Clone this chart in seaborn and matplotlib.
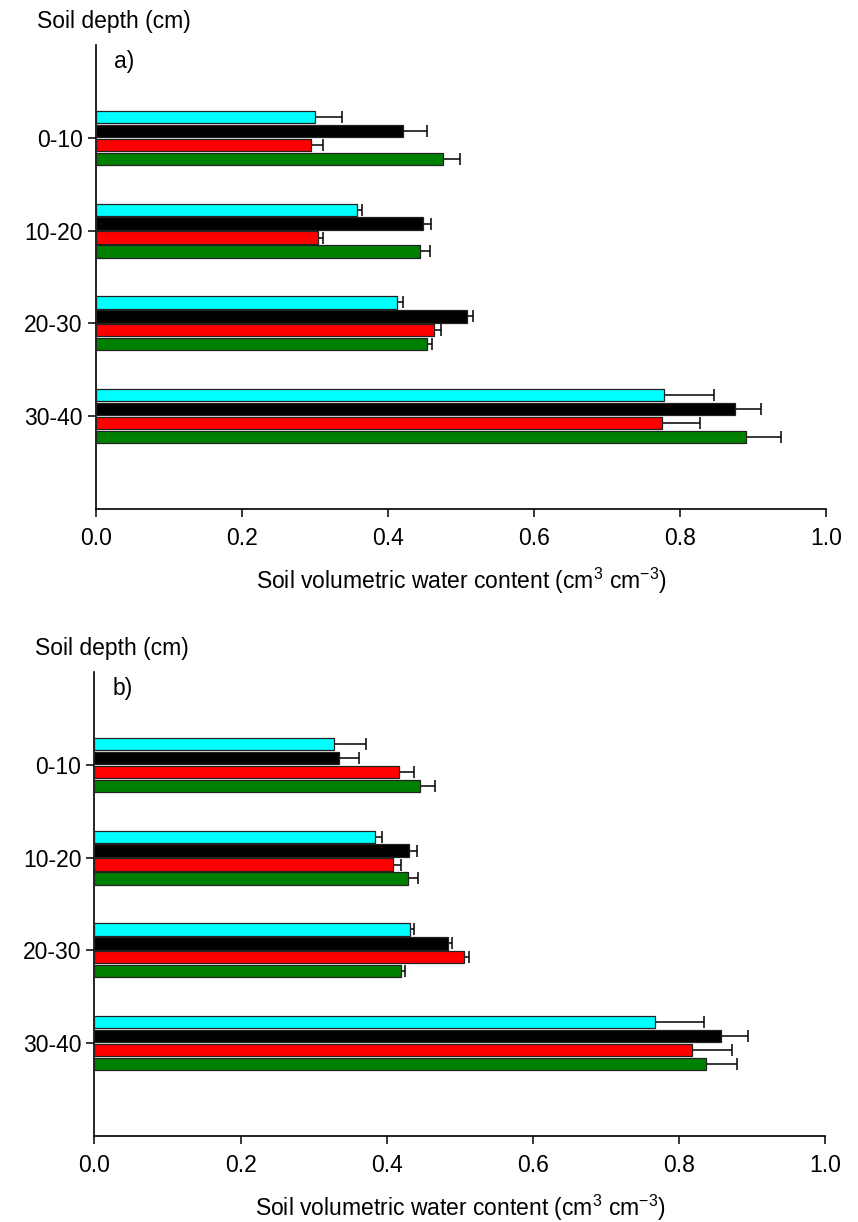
import numpy as np
import pandas as pd
import seaborn as sns
import matplotlib.pyplot as plt

depths = ['0-10', '10-20', '20-30', '30-40']
treatments = ['T1', 'T2', 'T3', 'T4']
mypal = {'T1': '#00FFFF', 'T2': '#000000', 'T3': '#FF0000', 'T4': '#008000'}

# panel a) means per treatment, depths 0-10 .. 30-40
a_t1 = [0.300, 0.357, 0.413, 0.778]
a_t2 = [0.420, 0.448, 0.508, 0.875]
a_t3 = [0.295, 0.304, 0.463, 0.776]
a_t4 = [0.476, 0.444, 0.454, 0.891]
# panel a) error (one sided)
a_t1_se = [0.037, 0.007, 0.007, 0.069]
a_t2_se = [0.034, 0.011, 0.009, 0.036]
a_t3_se = [0.016, 0.007, 0.009, 0.052]
a_t4_se = [0.023, 0.014, 0.006, 0.048]

# panel b)
b_t1 = [0.327, 0.384, 0.431, 0.767]
b_t2 = [0.334, 0.430, 0.484, 0.857]
b_t3 = [0.417, 0.409, 0.505, 0.817]
b_t4 = [0.445, 0.429, 0.420, 0.836]
b_t1_se = [0.044, 0.009, 0.006, 0.067]
b_t2_se = [0.028, 0.011, 0.005, 0.037]
b_t3_se = [0.020, 0.010, 0.007, 0.055]
b_t4_se = [0.021, 0.014, 0.005, 0.043]

xticks = [0.0, 0.2, 0.4, 0.6, 0.8, 1.0]

sns.set_style('ticks')
plt.rcParams['font.family'] = ['Liberation Sans', 'DejaVu Sans']
plt.rcParams['mathtext.default'] = 'regular'
plt.rcParams['text.color'] = 'black'
plt.rcParams['axes.labelcolor'] = 'black'
plt.rcParams['xtick.color'] = 'black'
plt.rcParams['ytick.color'] = 'black'

fig = plt.figure(figsize=(8.58, 12.22), dpi=100)
axA = fig.add_axes([0.1119, 0.5835, 0.8508, 0.3797])
axB = fig.add_axes([0.1101, 0.0704, 0.8520, 0.3797])


def draw_panel(ax, means, errs, letter):
    df = pd.DataFrame({'depth': depths * len(treatments),
                       'treat': np.repeat(treatments, len(depths)),
                       'swc': np.concatenate(means)})
    sns.barplot(data=df, x='swc', y='depth', hue='treat', order=depths,
                hue_order=treatments, palette=mypal, orient='h', width=0.6,
                gap=0.12, errorbar=None, edgecolor='#222222', linewidth=0.9,
                saturation=1, legend=False, ax=ax, zorder=3)
    # one-sided error bars at the end of each bar
    for cont, err in zip(ax.containers, errs):
        bars = sorted(cont, key=lambda b: b.get_y())
        for bar, e in zip(bars, err):
            ax.errorbar(bar.get_width(), bar.get_y() + bar.get_height() / 2,
                        xerr=[[0], [e]], fmt='none', ecolor='black',
                        elinewidth=1.1, capsize=4.5, capthick=1.1, zorder=2)
    ax.set_xlim(0, 1.0)
    ax.set_ylim(len(depths), -1)
    ax.set_xticks(xticks)
    ax.set_xticklabels(['%.1f' % t for t in xticks])
    ax.tick_params(direction='out', length=6, width=1.1, labelsize=16.5)
    ax.tick_params(axis='x', pad=7)
    for s in ['top', 'right']:
        ax.spines[s].set_visible(False)
    for s in ['left', 'bottom']:
        ax.spines[s].set_linewidth(1.2)
        ax.spines[s].set_color('black')
    ax.set_ylabel('')
    ax.set_xlabel('Soil volumetric water content (cm$^3$ cm$^{-3}$)', fontsize=16.5)
    ax.xaxis.set_label_coords(0.5, -0.156)
    ax.xaxis.label.set_va('center')
    ax.text(-0.081, 1.05, 'Soil depth (cm)', transform=ax.transAxes,
            ha='left', va='center', fontsize=16.5)
    ax.text(0.025, 0.965, letter, transform=ax.transAxes, ha='left',
            va='center', fontsize=16.5)


draw_panel(axA, [a_t1, a_t2, a_t3, a_t4],
           [a_t1_se, a_t2_se, a_t3_se, a_t4_se], 'a)')
draw_panel(axB, [b_t1, b_t2, b_t3, b_t4],
           [b_t1_se, b_t2_se, b_t3_se, b_t4_se], 'b)')

fig.savefig('out.png', dpi=100)
